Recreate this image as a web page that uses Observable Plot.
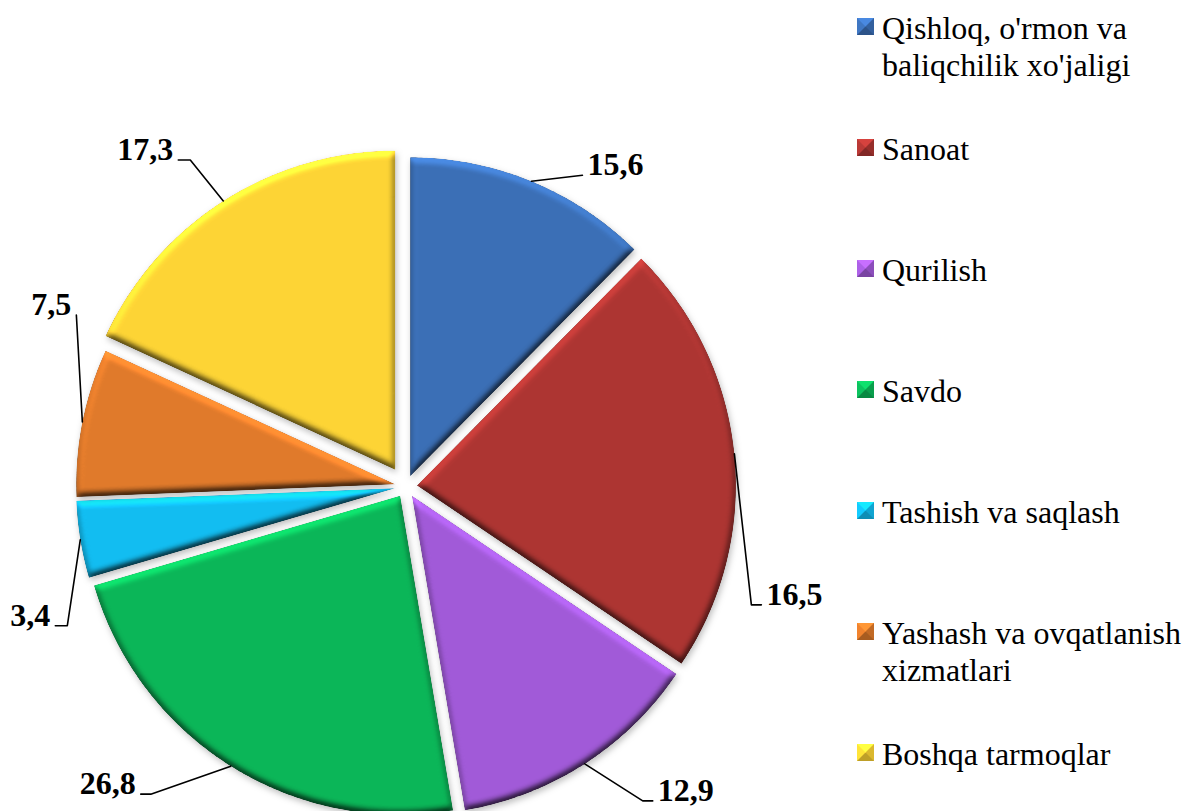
<!DOCTYPE html>
<html>
<head>
<meta charset="utf-8">
<script src="https://cdn.jsdelivr.net/npm/d3@7"></script>
<script src="https://cdn.jsdelivr.net/npm/@observablehq/plot@0.6"></script>
<style>
  html, body { margin: 0; padding: 0; background: #fff; }
  #wrap { position: relative; width: 1184px; height: 811px; overflow: hidden; }
  #wrap svg { position: absolute; left: 0; top: 0; }
  .lg-row { position: absolute; width: 300px; font-family: "Liberation Serif", "Times New Roman", serif; font-size: 32px; line-height: 37px; color: #000; padding-left: 25px; }
  .lg-mark { position: absolute; left: 0; width: 1px; height: 1px; border-style: solid; border-width: 8px; }
</style>
</head>
<body>
<div id="wrap"></div>
<script>
// ---------- data ----------
const sectors = [
  "Qishloq, o'rmon va baliqchilik xo'jaligi",
  "Sanoat",
  "Qurilish",
  "Savdo",
  "Tashish va saqlash",
  "Yashash va ovqatlanish xizmatlari",
  "Boshqa tarmoqlar"
];
// numbers printed on the chart
const valueLabels = [15.6, 16.5, 12.9, 26.8, 3.4, 7.5, 17.3];
// slice sizes as drawn in the picture (share of the full circle, %)
const sliceShares = [12.4, 22.0, 12.9, 23.1, 3.9, 7.5, 18.1];
const colors = ["#3b6fb6", "#ad3532", "#a15ad8", "#0bb658", "#12bdf1", "#e07a2b", "#fdd435"];

// ---------- layout ----------
const W = 1184, H = 811;
const cx = 405.5, cy = 486, R = 319;
const explodeDefault = 11, explodeBySector = {"Boshqa tarmoqlar": 20};
const labelLayout = [
  {dx: 51, dy: -6, side: 1, tail: 0},
  {dx: 17, dy: 151, side: 1, tail: 10},
  {dx: 58, dy: 37, side: 1, tail: 10},
  {dx: -80, dy: 28, side: -1, tail: 10},
  {dx: -13, dy: 86, side: -1, tail: 12},
  {dx: -6, dy: -107, side: -1, tail: 0},
  {dx: -33, dy: -41, side: -1, tail: 12}
];

const rows = sectors.map((s, i) => ({sector: s, share: sliceShares[i], label: valueLabels[i]}));
const arcs = d3.pie().sort(null).value(d => d.share)(rows);

const slicePts = [];
const leaderPts = [];
const labelRows = [];
arcs.forEach((a, i) => {
  const s = a.data.sector;
  const mid = (a.startAngle + a.endAngle) / 2;
  const ex = explodeBySector[s] ?? explodeDefault;
  const tx = ex * Math.sin(mid), ty = -ex * Math.cos(mid);
  slicePts.push({sector: s, x: tx, y: ty});
  const n = Math.max(2, Math.ceil((a.endAngle - a.startAngle) / (Math.PI / 360)));
  for (let k = 0; k <= n; k++) {
    const t = a.startAngle + (a.endAngle - a.startAngle) * k / n;
    slicePts.push({sector: s, x: tx + R * Math.sin(t), y: ty - R * Math.cos(t)});
  }
  const mx = tx + R * Math.sin(mid), my = ty - R * Math.cos(mid);
  const L = labelLayout[i];
  const ex2 = mx + L.dx, ey2 = my + L.dy;
  const endx = ex2 + L.side * L.tail;
  leaderPts.push({sector: s, x: mx, y: my});
  leaderPts.push({sector: s, x: ex2, y: ey2});
  if (L.tail) leaderPts.push({sector: s, x: endx, y: ey2});
  labelRows.push({
    sector: s, side: L.side,
    x: endx + L.side * 5, y: ey2,
    text: a.data.label.toFixed(1).replace(".", ",")
  });
});

const textStyle = {fontFamily: "Liberation Serif, Times New Roman, serif", fontSize: 32, fontWeight: "bold", fill: "#000", lineAnchor: "bottom"};

const svg = Plot.plot({
  width: W, height: H,
  marginTop: 0, marginRight: 0, marginBottom: 0, marginLeft: 0,
  x: {domain: [-cx, W - cx], range: [0, W], axis: null},
  y: {domain: [-cy, H - cy], range: [0, H], axis: null},
  color: {domain: sectors, range: colors},
  style: {background: "transparent", overflow: "visible"},
  marks: [
    Plot.line(slicePts, {x: "x", y: "y", z: "sector", fill: "sector", stroke: "none", curve: "linear-closed"}),
    Plot.line(leaderPts, {x: "x", y: "y", z: "sector", stroke: "#000", strokeWidth: 1.6}),
    Plot.text(labelRows.filter(d => d.side > 0), {x: "x", y: "y", text: "text", textAnchor: "start", ...textStyle}),
    Plot.text(labelRows.filter(d => d.side < 0), {x: "x", y: "y", text: "text", textAnchor: "end", ...textStyle})
  ]
});

// bevel + soft shadow for the slices
const ns = "http://www.w3.org/2000/svg";
const defs = document.createElementNS(ns, "defs");
defs.innerHTML = `
<filter id="bevel" x="-10%" y="-10%" width="120%" height="120%" color-interpolation-filters="sRGB">
  <feGaussianBlur in="SourceAlpha" stdDeviation="3.5" result="blur"/>
  <feDiffuseLighting in="blur" surfaceScale="3.5" diffuseConstant="1" lighting-color="#ffffff" result="diff">
    <feDistantLight azimuth="260" elevation="52"/>
  </feDiffuseLighting>
  <feComposite in="SourceGraphic" in2="diff" operator="arithmetic" k1="1.27" k2="0" k3="0" k4="0" result="lit"/>
  <feComposite in="lit" in2="SourceAlpha" operator="in" result="bev"/>
  <feDropShadow in="bev" dx="1.5" dy="3" stdDeviation="3" flood-color="#000" flood-opacity="0.25"/>
</filter>`;
svg.insertBefore(defs, svg.firstChild);
const sliceGroup = svg.querySelectorAll('g[aria-label="line"]')[0];
sliceGroup.querySelectorAll("path").forEach(p => p.setAttribute("filter", "url(#bevel)"));

const wrap = document.getElementById("wrap");
wrap.appendChild(svg);

// legend
const legendX = 857, legendFirstCenter = 27, legendStep = 121;
sectors.forEach((s, i) => {
  const row = document.createElement("div");
  row.className = "lg-row";
  row.style.left = legendX + "px";
  row.style.top = (legendFirstCenter + i * legendStep - 17.3) + "px";
  const m = document.createElement("div");
  m.className = "lg-mark";
  m.style.top = (17.3 - 8.5) + "px";
  const c = d3.color(colors[i]);
  m.style.borderTopColor = c.brighter(0.6).formatHex();
  m.style.borderLeftColor = c.brighter(0.2).formatHex();
  m.style.borderRightColor = c.darker(0.4).formatHex();
  m.style.borderBottomColor = c.darker(0.8).formatHex();
  m.style.background = colors[i];
  row.appendChild(m);
  row.appendChild(document.createTextNode(s));
  wrap.appendChild(row);
});
</script>
</body>
</html>
